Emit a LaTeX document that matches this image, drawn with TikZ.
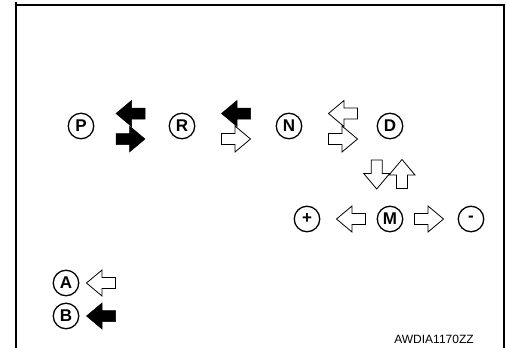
\documentclass[tikz,border=0pt]{standalone}
\usepackage{fontspec}
\setmainfont{Liberation Sans}
\begin{document}
\begin{tikzpicture}[x=1pt,y=-1pt,
  circ/.style={circle,draw,line width=1.3pt,minimum size=25.5pt,inner sep=0pt,font=\fontsize{17}{17}\selectfont\bfseries},
  blk/.style={fill=black,draw=black,line width=0.5pt},
  wht/.style={fill=white,draw=black,line width=0.8pt},
  pics/blockarrow/.style={code={
    \path[pic actions] (-14.5,0) -- (1,-13) -- (1,-5.5) -- (14.5,-5.5) -- (14.5,5.5) -- (1,5.5) -- (1,13) -- cycle;}}]
\useasboundingbox (0,0) rectangle (506,348);
% frame
\draw[line width=2.4pt] (16,2) -- (16,348);
\draw[line width=2pt] (15,4.5) -- (504,4.5);
\draw[line width=2pt] (504,3.5) -- (504,348);
% circles
\node[circ] (P) at (81,126) {P};
\node[circ] (R) at (182,126) {R};
\node[circ] (N) at (289,126) {N};
\node[circ] (D) at (390,126) {D};
\node[circ] (plus) at (307,219) {+};
\node[circ] (M) at (390,219) {M};
\node[circ] (minus) at (471,219) {-};
\node[circ] (A) at (66,283) {A};
\node[circ] (B) at (66,316) {B};
% arrows
\pic[blk] at (130.5,113.5) {blockarrow};
\pic[blk,rotate=180] at (130.5,139) {blockarrow};
\pic[blk] at (236,113.5) {blockarrow};
\pic[wht,rotate=180] at (236,139) {blockarrow};
\pic[wht] at (343,113.5) {blockarrow};
\pic[wht,rotate=180] at (343,139) {blockarrow};
\pic[wht,rotate=90] at (376.7,174.5) {blockarrow};
\pic[wht,rotate=-90] at (402,174) {blockarrow};
\pic[wht] at (351,219) {blockarrow};
\pic[wht,rotate=180] at (429,219) {blockarrow};
\pic[wht] at (101,283) {blockarrow};
\pic[blk] at (101,316) {blockarrow};
\node[font=\fontsize{12}{12}\selectfont,inner sep=0pt] (code) at (434,339.5) {AWDIA1170ZZ};
\end{tikzpicture}
\end{document}
